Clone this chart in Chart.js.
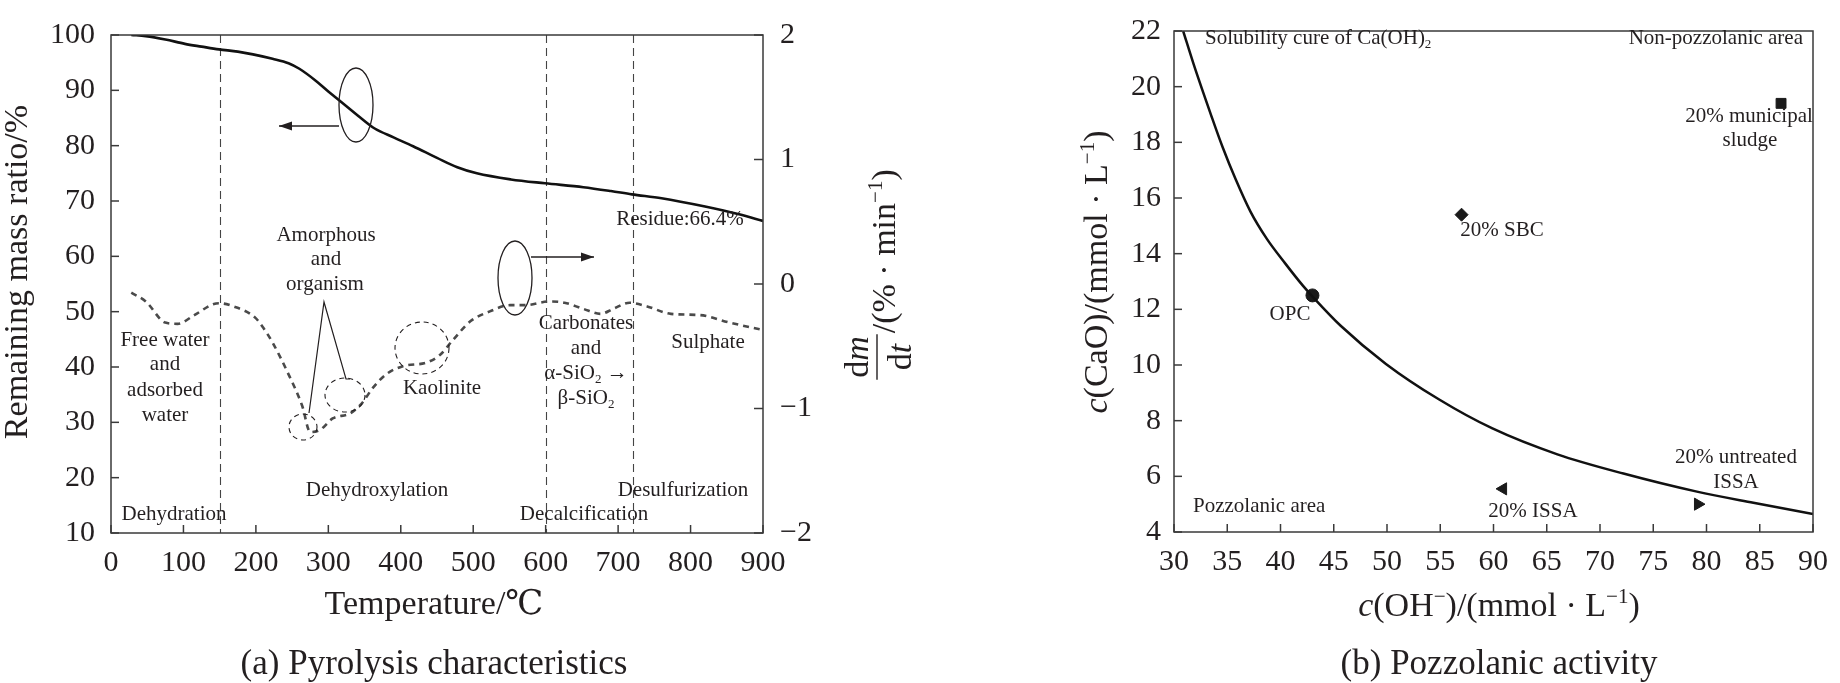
<!DOCTYPE html>
<html><head><meta charset="utf-8">
<script src="https://cdn.jsdelivr.net/npm/chart.js@4.4.1/dist/chart.umd.min.js"></script>
<style>
html,body{margin:0;padding:0;background:#fff;}
#wrap{position:relative;width:1840px;height:683px;overflow:hidden;background:#fff;}
.box{position:absolute;left:0;top:0;width:1840px;height:683px;}
</style></head><body>
<div id="wrap"><div class="box"><canvas id="ca"></canvas></div><div class="box"><canvas id="cb"></canvas></div></div>
<script>
// ---------- DATA ----------
// (a) Pyrolysis characteristics
const tgTemp = [28, 48, 75, 102, 125, 149, 175, 196, 223, 245, 260, 283, 300, 317, 344, 364, 390, 417, 450, 478, 505, 552, 599, 652, 690, 719, 760, 820, 867, 900];
const tgMass = [100.0, 99.8, 99.2, 98.4, 97.9, 97.4, 97.0, 96.5, 95.7, 94.9, 93.9, 91.7, 89.8, 88.0, 85.1, 83.1, 81.5, 79.9, 77.8, 76.1, 75.0, 73.9, 73.2, 72.5, 71.8, 71.2, 70.5, 69.0, 67.6, 66.4];
const dtgTemp = [28, 48, 75, 92, 115, 142, 150, 169, 199, 210, 223, 243, 264, 275, 289, 306, 330, 346, 362, 381, 403, 436, 454, 472, 496, 523, 551, 572, 606, 626, 652, 676, 693, 716, 740, 773, 813, 854, 900];
const dtgRate = [-0.07, -0.14, -0.31, -0.32, -0.25, -0.16, -0.155, -0.18, -0.27, -0.35, -0.47, -0.70, -0.98, -1.19, -1.17, -1.08, -1.04, -0.96, -0.83, -0.72, -0.66, -0.63, -0.57, -0.45, -0.30, -0.22, -0.17, -0.17, -0.14, -0.15, -0.20, -0.24, -0.20, -0.15, -0.18, -0.24, -0.25, -0.31, -0.37];
const stageTemps = [150, 600, 720];
const tempTicks = [0, 100, 200, 300, 400, 500, 600, 700, 800, 900];
const massTicks = [10, 20, 30, 40, 50, 60, 70, 80, 90, 100];
const rateTicks = [-2, -1, 0, 1, 2];

// (b) Pozzolanic activity
const curveOH  = [30.86, 31.85, 33.48, 34.56, 35.79, 37.18, 38.72, 40.42, 42.1, 43.03, 45.65, 49.9, 54.9, 59.9, 66.0, 72.2, 79.1, 84.4, 90.0];
const curveCaO = [22.0, 20.8, 18.98, 17.83, 16.67, 15.51, 14.53, 13.66, 12.85, 12.45, 11.41, 10.04, 8.76, 7.72, 6.79, 6.1, 5.45, 5.05, 4.65];
const sampleNames = ['20% municipal sludge', '20% SBC', 'OPC', '20% ISSA', '20% untreated ISSA'];
const sampleOH  = [87.0, 57.0, 43.0, 60.9, 79.2];
const sampleCaO = [19.4, 15.4, 12.5, 5.55, 5.0];
const ohTicks  = [30, 35, 40, 45, 50, 55, 60, 65, 70, 75, 80, 85, 90];
const caoTicks = [4, 6, 8, 10, 12, 14, 16, 18, 20, 22];

// ---------- STYLE ----------
const SERIF = '"Liberation Serif", "Times New Roman", "DejaVu Serif", serif';
const INK = '#231f20';
const AXIS = '#3a3a3a';
Chart.defaults.font.family = SERIF;
Chart.defaults.color = INK;

function minusFmt(v) { return v < 0 ? '\u2212' + Math.abs(v) : String(v); }

function rich(ctx, segs, x, y, size, align) {
  const parts = segs.map(s => {
    const o = (typeof s === 'string') ? { t: s } : s;
    const fs = (o.sup || o.sub) ? size * 0.62 : size;
    const font = (o.i ? 'italic ' : '') + fs + 'px ' + SERIF;
    ctx.font = font;
    return { t: o.t, font, w: ctx.measureText(o.t).width, dy: o.sup ? -size * 0.38 : (o.sub ? size * 0.2 : 0) };
  });
  const total = parts.reduce((a, p) => a + p.w, 0);
  let cx = align === 'center' ? x - total / 2 : (align === 'right' ? x - total : x);
  ctx.textAlign = 'left';
  ctx.textBaseline = 'alphabetic';
  parts.forEach(p => { ctx.font = p.font; ctx.fillText(p.t, cx, y + p.dy); cx += p.w; });
  return total;
}
function line(ctx, x1, y1, x2, y2) { ctx.beginPath(); ctx.moveTo(x1, y1); ctx.lineTo(x2, y2); ctx.stroke(); }
function ellipse(ctx, cx, cy, rx, ry) { ctx.beginPath(); ctx.ellipse(cx, cy, rx, ry, 0, 0, Math.PI * 2); ctx.stroke(); }
function arrow(ctx, x1, y, x2) {
  line(ctx, x1, y, x2, y);
  const d = x2 > x1 ? 1 : -1;
  ctx.beginPath(); ctx.moveTo(x2, y); ctx.lineTo(x2 - d * 13, y - 4.5); ctx.lineTo(x2 - d * 13, y + 4.5); ctx.closePath(); ctx.fill();
}
function frameAndTicks(chart, xs, ys, ys2) {
  const ctx = chart.ctx, a = chart.chartArea;
  ctx.save();
  ctx.strokeStyle = AXIS; ctx.lineWidth = 1.5; ctx.setLineDash([]);
  ctx.strokeRect(a.left, a.top, a.right - a.left, a.bottom - a.top);
  xs.ticks.forEach(t => { const p = xs.getPixelForValue(t.value); line(ctx, p, a.bottom, p, a.bottom - 8); });
  ys.ticks.forEach(t => { const p = ys.getPixelForValue(t.value); line(ctx, a.left, p, a.left + 8, p); });
  if (ys2) ys2.ticks.forEach(t => { const p = ys2.getPixelForValue(t.value); line(ctx, a.right, p, a.right - 9, p); });
  ctx.restore();
}

// ---------- PANEL (a) ----------
const panelA = {
  id: 'panelA',
  beforeDatasetsDraw(chart) {
    const ctx = chart.ctx, a = chart.chartArea, xs = chart.scales.x;
    ctx.save();
    ctx.strokeStyle = '#444'; ctx.lineWidth = 1.1; ctx.setLineDash([8, 5]);
    stageTemps.forEach(T => { const p = Math.round(xs.getPixelForValue(T)) + 0.5; line(ctx, p, a.top, p, a.bottom); });
    ctx.restore();
  },
  afterDraw(chart) {
    frameAndTicks(chart, chart.scales.x, chart.scales.y, chart.scales.y2);
    const ctx = chart.ctx;
    ctx.save();
    ctx.fillStyle = INK; ctx.strokeStyle = INK;
    const S = 21;
    // annotations
    rich(ctx, ['Amorphous'], 326, 241, S, 'center');
    rich(ctx, ['and'], 326, 265, S, 'center');
    rich(ctx, ['organism'], 325, 290, S, 'center');
    rich(ctx, ['Free water'], 165, 346, S, 'center');
    rich(ctx, ['and'], 165, 370, S, 'center');
    rich(ctx, ['adsorbed'], 165, 396, S, 'center');
    rich(ctx, ['water'], 165, 421, S, 'center');
    rich(ctx, ['Kaolinite'], 442, 394, S, 'center');
    rich(ctx, ['Carbonates'], 586, 329, S, 'center');
    rich(ctx, ['and'], 586, 354, S, 'center');
    rich(ctx, ['\u03b1-SiO', { t: '2', sub: true }, ' \u2192'], 586, 379, S, 'center');
    rich(ctx, ['\u03b2-SiO', { t: '2', sub: true }], 586, 404, S, 'center');
    rich(ctx, ['Sulphate'], 708, 348, S, 'center');
    rich(ctx, ['Residue:66.4%'], 680, 225, S, 'center');
    rich(ctx, ['Dehydroxylation'], 377, 496, S, 'center');
    rich(ctx, ['Desulfurization'], 683, 496, S, 'center');
    rich(ctx, ['Dehydration'], 174, 520, S, 'center');
    rich(ctx, ['Decalcification'], 584, 520, S, 'center');
    // pointer lines
    ctx.lineWidth = 1.2; ctx.setLineDash([]);
    ctx.beginPath(); ctx.moveTo(309, 413); ctx.lineTo(324, 302); ctx.lineTo(346, 379); ctx.lineTo(350, 379); ctx.stroke();
    // solid ellipses + arrows
    ctx.lineWidth = 1.3;
    ellipse(ctx, 356, 105, 17, 37);
    arrow(ctx, 339, 126, 279);
    ellipse(ctx, 515, 278, 17, 37);
    arrow(ctx, 531, 257, 594);
    // dashed circles
    ctx.lineWidth = 1.1; ctx.setLineDash([5, 4]);
    ellipse(ctx, 303, 427, 14, 13);
    ellipse(ctx, 345, 395, 20, 17);
    ellipse(ctx, 422, 348, 27, 26);
    ctx.setLineDash([]);
    // axis titles
    rich(ctx, ['Temperature/\u2103'], 434, 614, 34, 'center');
    rich(ctx, ['(a) Pyrolysis characteristics'], 434, 674, 35, 'center');
    ctx.save(); ctx.translate(27, 272); ctx.rotate(-Math.PI / 2);
    rich(ctx, ['Remaining mass ratio/%'], 0, 0, 34, 'center');
    ctx.restore();
    // right title: dm/dt /(% · min^-1)
    ctx.save(); ctx.translate(895, 275); ctx.rotate(-Math.PI / 2);
    const F = 34;
    const parts = { num: ['d', { t: 'm', i: true }], den: ['d', { t: 't', i: true }] };
    const meas = segs => { let w = 0; segs.forEach(s => { const o = typeof s === 'string' ? { t: s } : s; const fs = o.sup ? F * 0.62 : F; ctx.font = (o.i ? 'italic ' : '') + fs + 'px ' + SERIF; w += ctx.measureText(o.t).width; }); return w; };
    const fw = Math.max(meas(parts.num), meas(parts.den)) + 6;
    const restSegs = ['/(% \u00b7 min', { t: '\u22121', sup: true }, ')'];
    const rw = meas(restSegs);
    const u0 = -(fw + rw) / 2;
    rich(ctx, parts.num, u0 + fw / 2, -27, F, 'center');
    rich(ctx, parts.den, u0 + fw / 2, 16, F, 'center');
    ctx.lineWidth = 1.4; line(ctx, u0 + 1, -18, u0 + fw - 1, -18);
    rich(ctx, restSegs, u0 + fw, 0, F, 'left');
    ctx.restore();
    ctx.restore();
  }
};

new Chart(document.getElementById('ca'), {
  type: 'line',
  data: {
    datasets: [
      { label: 'Remaining mass ratio', data: tgTemp.map((t, i) => ({ x: t, y: tgMass[i] })), yAxisID: 'y',
        borderColor: '#111', borderWidth: 2.6, pointRadius: 0, cubicInterpolationMode: 'monotone', fill: false },
      { label: 'dm/dt', data: dtgTemp.map((t, i) => ({ x: t, y: dtgRate[i] })), yAxisID: 'y2',
        borderColor: '#4a4a4a', borderWidth: 2.6, borderDash: [6, 5], pointRadius: 0, cubicInterpolationMode: 'monotone', fill: false }
    ]
  },
  options: {
    responsive: true, maintainAspectRatio: false, animation: false,
    layout: { padding: { left: 0, top: 14, right: 920, bottom: 0 } },
    plugins: { legend: { display: false }, tooltip: { enabled: false } },
    scales: {
      x: { type: 'linear', min: 0, max: 900,
        afterBuildTicks: s => { s.ticks = tempTicks.map(v => ({ value: v })); },
        ticks: { padding: 12, font: { size: 30 }, color: INK, maxRotation: 0, autoSkip: false },
        grid: { display: false, drawTicks: false }, border: { display: false },
        afterFit: s => { s.height = 150; } },
      y: { position: 'left', min: 10, max: 100,
        afterBuildTicks: s => { s.ticks = massTicks.map(v => ({ value: v })); },
        ticks: { padding: 16, font: { size: 30 }, color: INK },
        grid: { display: false, drawTicks: false }, border: { display: false },
        afterFit: s => { s.width = 111; } },
      y2: { position: 'right', min: -2, max: 2,
        afterBuildTicks: s => { s.ticks = rateTicks.map(v => ({ value: v })); },
        ticks: { padding: 17, font: { size: 30 }, color: INK, callback: v => minusFmt(v) },
        grid: { display: false, drawTicks: false }, border: { display: false },
        afterFit: s => { s.width = 157; } }
    }
  },
  plugins: [panelA]
});

// ---------- PANEL (b) ----------
const panelB = {
  id: 'panelB',
  afterDraw(chart) {
    frameAndTicks(chart, chart.scales.x, chart.scales.y, null);
    const ctx = chart.ctx;
    ctx.save();
    ctx.fillStyle = INK;
    const S = 21;
    rich(ctx, ['Solubility cure of Ca(OH)', { t: '2', sub: true }], 1205, 44, S, 'left');
    rich(ctx, ['Non-pozzolanic area'], 1803, 44, S, 'right');
    rich(ctx, ['20% municipal'], 1749, 122, S, 'center');
    rich(ctx, ['sludge'], 1750, 146, S, 'center');
    rich(ctx, ['20% SBC'], 1502, 236, S, 'center');
    rich(ctx, ['OPC'], 1290, 320, S, 'center');
    rich(ctx, ['20% untreated'], 1736, 463, S, 'center');
    rich(ctx, ['ISSA'], 1736, 488, S, 'center');
    rich(ctx, ['20% ISSA'], 1533, 517, S, 'center');
    rich(ctx, ['Pozzolanic area'], 1193, 512, S, 'left');
    rich(ctx, [{ t: 'c', i: true }, '(OH', { t: '\u2212', sup: true }, ')/(mmol \u00b7 L', { t: '\u22121', sup: true }, ')'], 1499, 616, 34, 'center');
    rich(ctx, ['(b) Pozzolanic activity'], 1499, 674, 35, 'center');
    ctx.save(); ctx.translate(1107, 272); ctx.rotate(-Math.PI / 2);
    rich(ctx, [{ t: 'c', i: true }, '(CaO)/(mmol \u00b7 L', { t: '\u22121', sup: true }, ')'], 0, 0, 34, 'center');
    ctx.restore();
    ctx.restore();
  }
};

const markerStyles = [
  { pointStyle: 'rect', radius: 7, rotation: 0 },
  { pointStyle: 'rectRot', radius: 6.5, rotation: 0 },
  { pointStyle: 'circle', radius: 6.5, rotation: 0 },
  { pointStyle: 'triangle', radius: 7, rotation: -90 },
  { pointStyle: 'triangle', radius: 7, rotation: 90 }
];

new Chart(document.getElementById('cb'), {
  type: 'scatter',
  data: {
    datasets: [
      { type: 'line', label: 'Solubility curve of Ca(OH)2', data: curveOH.map((x, i) => ({ x, y: curveCaO[i] })),
        borderColor: '#111', borderWidth: 2.5, pointRadius: 0, cubicInterpolationMode: 'monotone', fill: false }
    ].concat(sampleNames.map((n, i) => ({
      label: n, data: [{ x: sampleOH[i], y: sampleCaO[i] }],
      pointStyle: markerStyles[i].pointStyle, pointRadius: markerStyles[i].radius, pointRotation: markerStyles[i].rotation,
      backgroundColor: '#1a1a1a', borderColor: '#1a1a1a', borderWidth: 1
    })))
  },
  options: {
    responsive: true, maintainAspectRatio: false, animation: false,
    layout: { padding: { left: 920, top: 13, right: 17, bottom: 0 } },
    plugins: { legend: { display: false }, tooltip: { enabled: false } },
    scales: {
      x: { type: 'linear', min: 30, max: 90,
        afterBuildTicks: s => { s.ticks = ohTicks.map(v => ({ value: v })); },
        ticks: { padding: 12, font: { size: 30 }, color: INK, maxRotation: 0, autoSkip: false },
        grid: { display: false, drawTicks: false }, border: { display: false },
        afterFit: s => { s.height = 151; } },
      y: { type: 'linear', position: 'left', min: 4, max: 22,
        afterBuildTicks: s => { s.ticks = caoTicks.map(v => ({ value: v })); },
        ticks: { padding: 13, font: { size: 30 }, color: INK },
        grid: { display: false, drawTicks: false }, border: { display: false },
        afterFit: s => { s.width = 254; } }
    }
  },
  plugins: [panelB]
});
</script>
</body></html>
